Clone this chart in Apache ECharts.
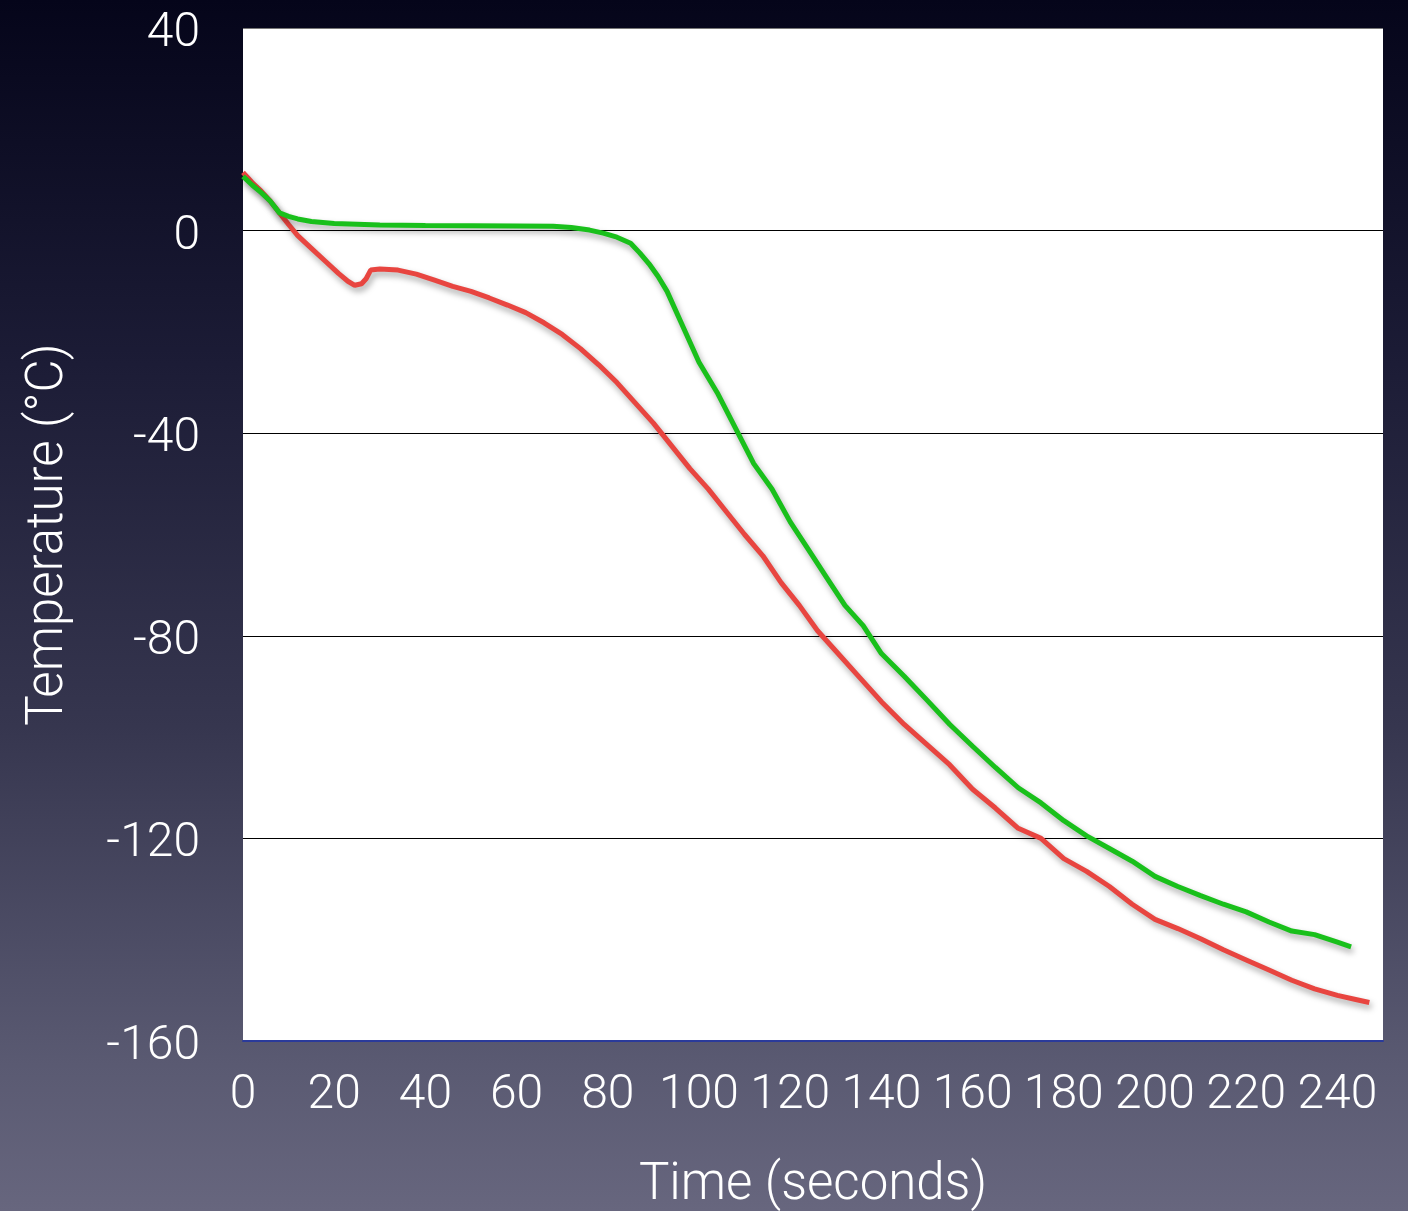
<!DOCTYPE html>
<html><head><meta charset="utf-8">
<script src="https://cdn.jsdelivr.net/npm/echarts@6/dist/echarts.min.js"></script>
<style>
html,body{margin:0;padding:0;width:1408px;height:1211px;overflow:hidden;
background:linear-gradient(to bottom,#05051a 0%,#1c1c36 30%,#36364f 60%,#5a5a72 88%,#67667e 100%);}
#chart{width:1408px;height:1211px;}
</style></head>
<body><div id="chart"></div>
<script>
const xTicks = [0,20,40,60,80,100,120,140,160,180,200,220,240];
const yTicks = [40,0,-40,-80,-120,-160];

const greenTime = [0,2,4,6,8,10,12,15,20,30,40,50,60,68,72,76,79,82,85,87,89,91,93,96,100,104,108,112,116,120,124,128,132,136,140,145,150,155,160,165,170,175,180,185,190,195,200,205,210,215,220,225,230,235,240,243];
const greenTemp = [10.7,9,7.5,5.8,3.5,2.8,2.3,1.8,1.4,1.1,1.0,0.95,0.9,0.85,0.6,0.1,-0.5,-1.3,-2.5,-4.4,-6.5,-9,-12,-18,-26,-32,-39,-46,-51,-57.5,-63,-68.5,-74,-78,-83.5,-88,-92.7,-97.5,-101.8,-106,-110,-113,-116.5,-119.5,-122,-124.5,-127.5,-129.5,-131.3,-133,-134.5,-136.5,-138.3,-139,-140.5,-141.4];

const redTime = [0,2,4,6,8,10,12,15,18,21,23,24.5,26,27,28,30,34,38,42,46,50,54,58,62,66,70,74,78,82,86,90,94,98,102,106,110,114,118,122,126,130,135,140,145,150,155,160,165,170,175,180,185,190,195,200,205,210,215,220,225,230,235,240,244,247];
const redTemp = [11.5,9.5,7.8,5.8,3.5,1.2,-1,-3.5,-6,-8.5,-10,-10.8,-10.5,-9.5,-7.8,-7.6,-7.8,-8.6,-9.8,-11,-12,-13.3,-14.7,-16.2,-18.2,-20.5,-23.3,-26.5,-30,-34,-38,-42.5,-47,-51,-55.5,-60,-64.2,-69.5,-74,-79,-83,-88,-93,-97.5,-101.5,-105.5,-110.3,-114,-118,-120,-124,-126.5,-129.5,-133,-136,-137.8,-139.8,-142,-144,-146,-148,-149.7,-151,-151.8,-152.4];

const FONT = 'Roboto';
const chart = echarts.init(document.getElementById('chart'), null, {renderer:'canvas'});
const shadow = {shadowColor:'rgba(0,0,0,0.35)', shadowBlur:6, shadowOffsetX:2, shadowOffsetY:4};
chart.setOption({
  backgroundColor:'transparent',
  animation:false,
  grid:{left:243,right:25,top:28,bottom:170,show:true,backgroundColor:'#ffffff',borderWidth:0,
        containLabel:false,outerBoundsMode:'none'},
  xAxis:{
    type:'value',min:0,max:250,interval:20,
    name:'Time (seconds)',nameLocation:'middle',nameGap:120,
    nameTextStyle:{color:'#ffffff',fontSize:51,fontFamily:FONT,fontWeight:300},
    axisLine:{show:true,onZero:false,lineStyle:{color:'#2a3a9a',width:2}},
    axisTick:{show:false},
    splitLine:{show:false},
    axisLabel:{color:'#ffffff',fontSize:48,fontFamily:FONT,fontWeight:300,margin:31,showMaxLabel:false,
      formatter:v=>xTicks.includes(v)?String(v):''}
  },
  yAxis:{
    type:'value',min:-160,max:40,interval:40,
    name:'Temperature (°C)',nameLocation:'middle',nameGap:168,
    nameTextStyle:{color:'#ffffff',fontSize:51,fontFamily:FONT,fontWeight:300},
    axisLine:{show:false},
    axisTick:{show:false},
    splitLine:{show:true,lineStyle:{color:['#000','#000','#000','#000','#000','#777'],width:1.2}},
    axisLabel:{color:'#ffffff',fontSize:48,fontFamily:FONT,fontWeight:300,margin:43,
      verticalAlign:'top',lineHeight:12,
      formatter:v=>yTicks.includes(v)?String(v):''}
  },
  series:[
    {type:'line',name:'green',data:greenTime.map((t,i)=>[t,greenTemp[i]]),showSymbol:false,
     lineStyle:Object.assign({color:'#19c01b',width:5},shadow),z:3},
    {type:'line',name:'red',data:redTime.map((t,i)=>[t,redTemp[i]]),showSymbol:false,
     lineStyle:Object.assign({color:'#e84540',width:5},shadow),z:2}
  ]
});
</script></body></html>
